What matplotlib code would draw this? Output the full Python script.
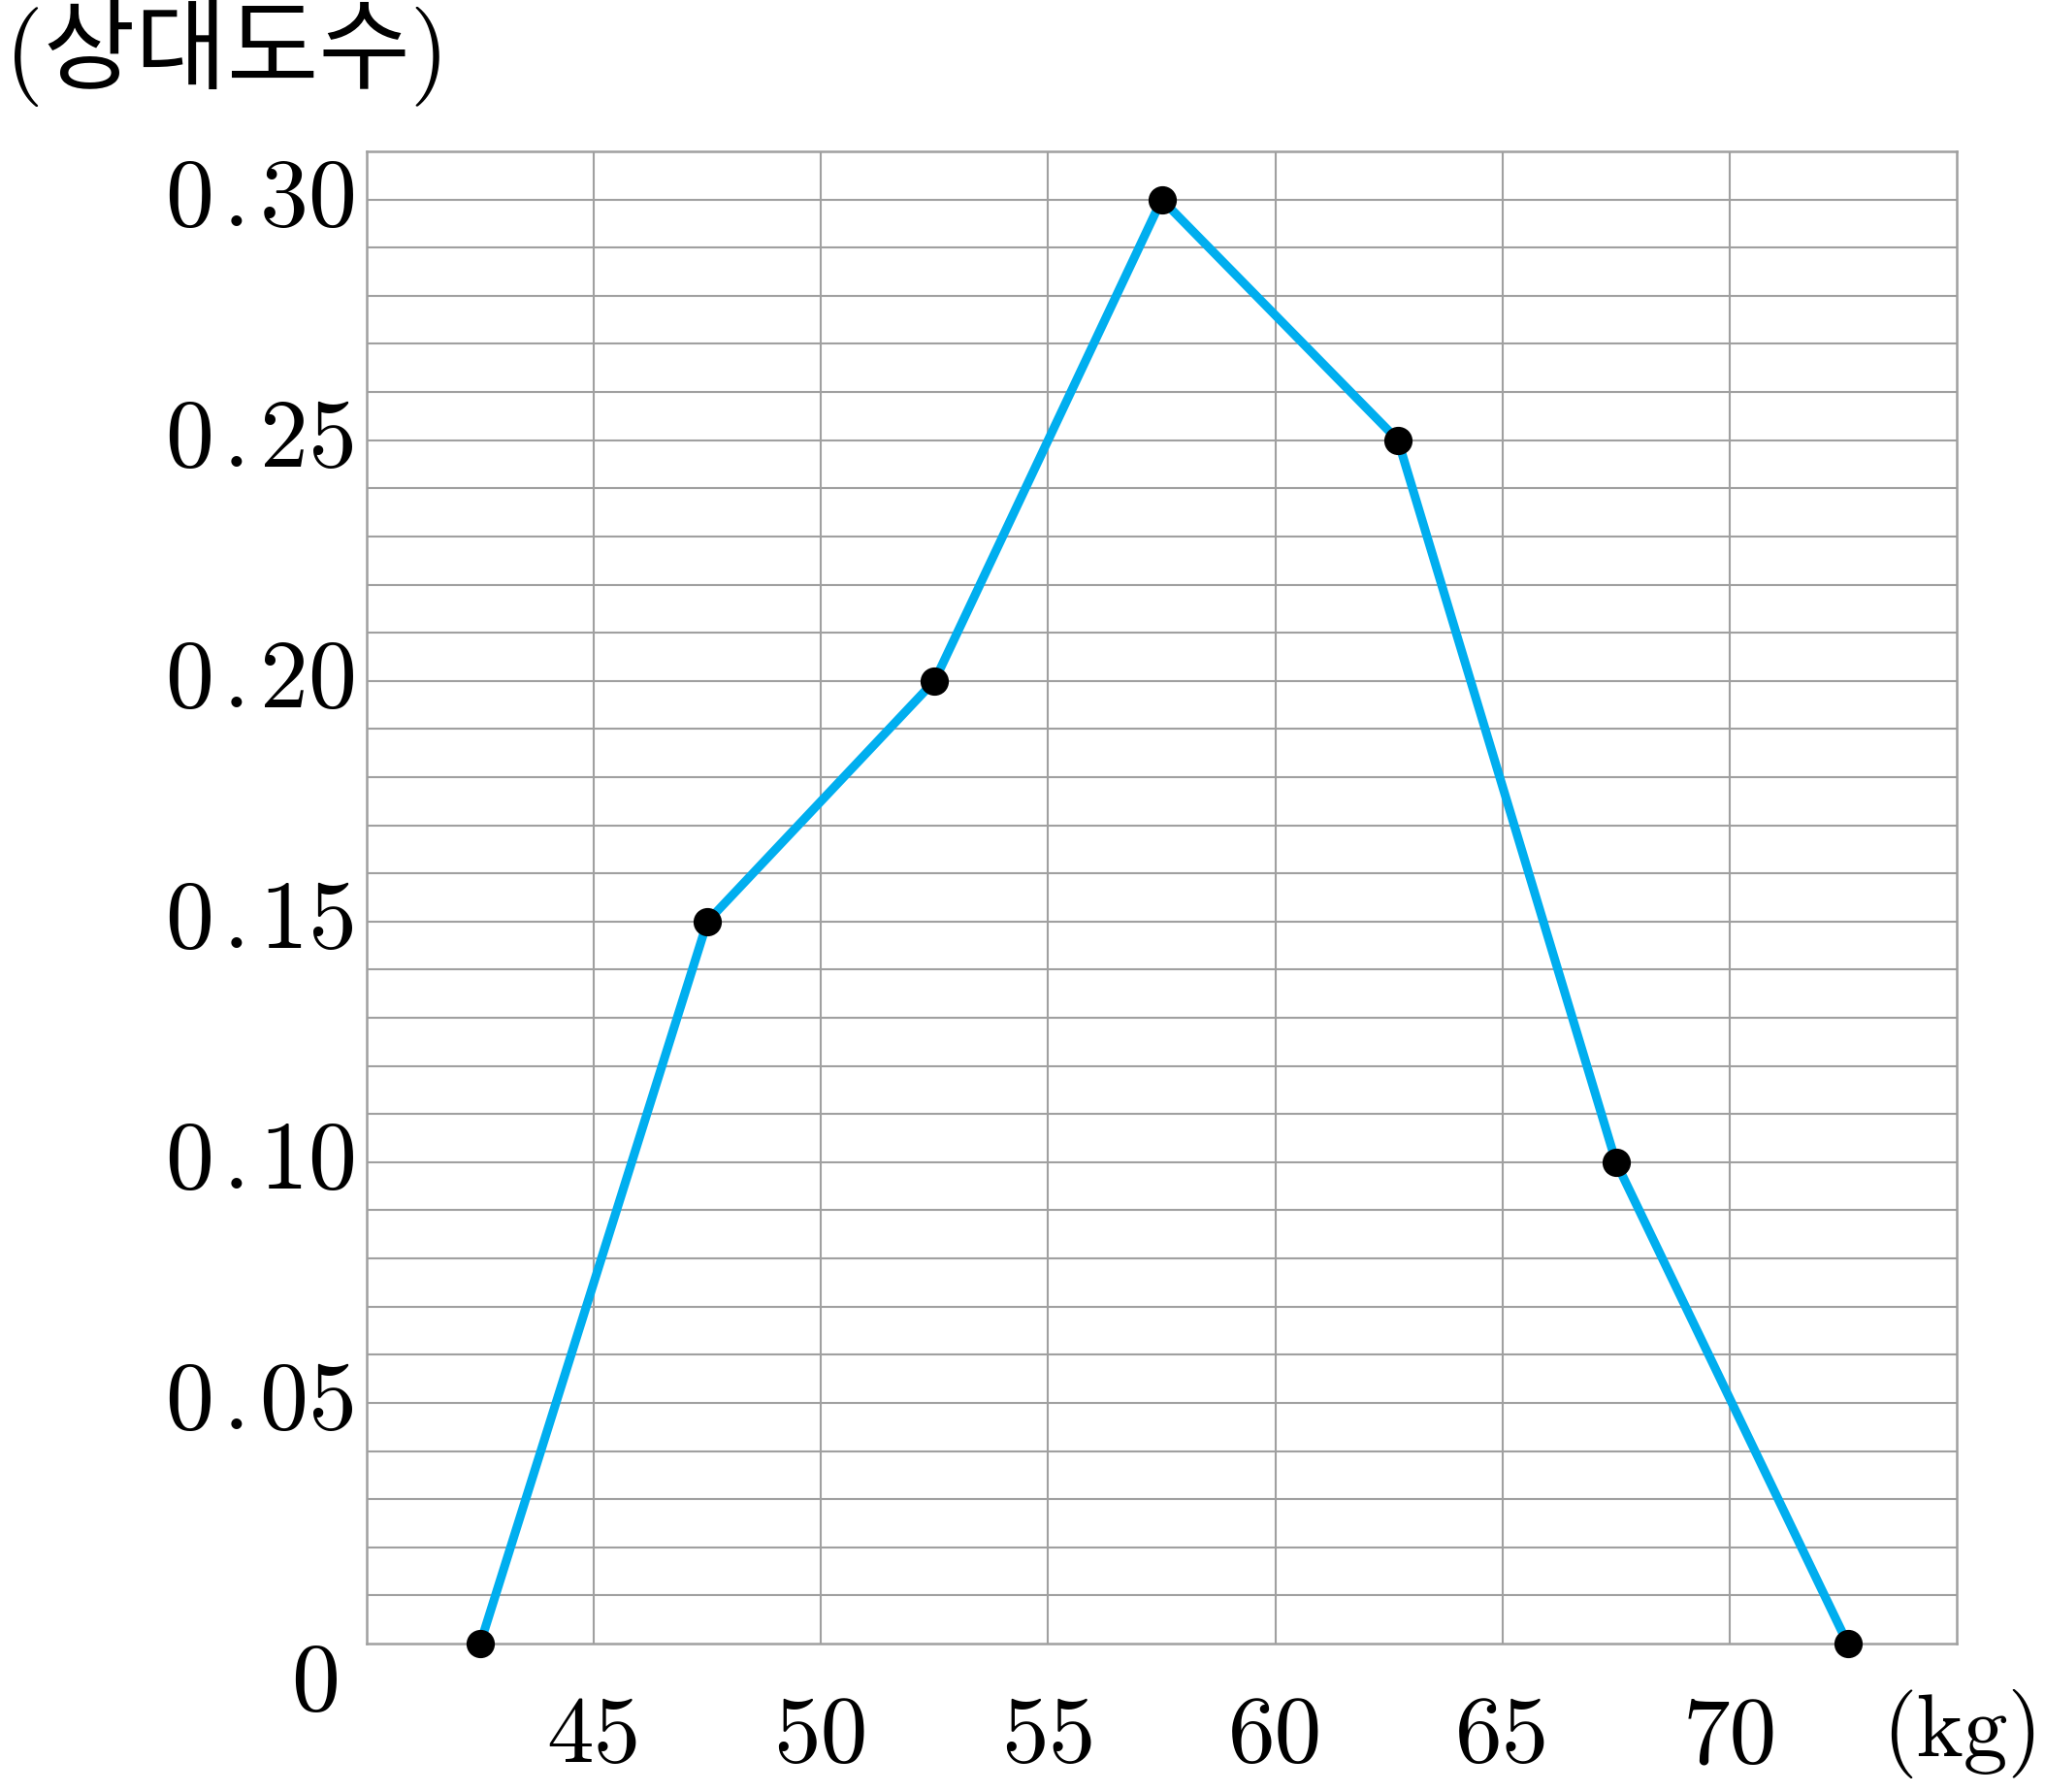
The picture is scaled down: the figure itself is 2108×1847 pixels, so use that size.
import matplotlib
matplotlib.use("Agg")
import matplotlib.pyplot as plt
import numpy as np

plt.rcParams["mathtext.fontset"] = "cm"

# Data
class_mid = [42.5, 47.5, 52.5, 57.5, 62.7, 67.5, 72.6]
rel_freq = [0.0, 0.15, 0.20, 0.30, 0.25, 0.10, 0.0]
x_ticks = [45, 50, 55, 60, 65, 70]
x_tick_labels = ["45", "50", "55", "60", "65", "70"]
y_ticks = [0.05, 0.10, 0.15, 0.20, 0.25, 0.30]
y_tick_labels = ["0.05", "0.10", "0.15", "0.20", "0.25", "0.30"]
y_title = "(상대도수)"
x_unit = "(kg)"

W, H = 2108, 1847
fig = plt.figure(figsize=(W / 100, H / 100), dpi=100)
ax = fig.add_axes([378 / W, 1 - 1694 / H, (2017 - 378) / W, (1694 - 156) / H])

grid_col = "#a0a0a0"
ax.set_xlim(40, 75)
ax.set_ylim(0, 0.31)

# grid
for xv in x_ticks:
    ax.axvline(xv, color=grid_col, lw=1.5, zorder=1)
for yv in np.arange(1, 31) / 100:
    ax.axhline(yv, color=grid_col, lw=1.5, zorder=1)
for s in ax.spines.values():
    s.set_color(grid_col)
    s.set_linewidth(1.8)

ax.plot(class_mid, rel_freq, color="#00AEEF", lw=6.5, zorder=3, solid_capstyle="round")
ax.plot(class_mid, rel_freq, "o", color="black", ms=20, zorder=4, clip_on=False)

ax.tick_params(length=0)
ax.set_xticks(x_ticks)
ax.set_xticklabels(x_tick_labels, fontfamily="cmr10", fontsize=70)
ax.tick_params(axis="x", pad=39)
ax.set_yticks(y_ticks)
ylabs = [r"$%s\hspace{0.11}.\hspace{-0.08}%s$" % tuple(t.split(".")) for t in y_tick_labels]
ax.set_yticklabels(ylabs, fontsize=72)
ax.tick_params(axis="y", pad=(378 - 170) * 0.72)
for lab in ax.get_yticklabels():
    lab.set_horizontalalignment("left")
    lab.set_verticalalignment("center")

# zero label
ax.text(-53 / (2017 - 378), -(1738 - 1694) / (1694 - 156), "0", transform=ax.transAxes,
        fontfamily="cmr10", fontsize=72, ha="center", va="center")
# unit label
ax.text((1940 - 378) / (2017 - 378), -(1787 - 1694) / (1694 - 156), x_unit, transform=ax.transAxes,
        fontfamily="cmr10", fontsize=66, ha="left", va="center")
# y title
fig.text(5 / W, 1 - 55 / H, y_title, fontfamily=["cmr10", "Noto Sans CJK KR"], fontsize=74,
         ha="left", va="center")

fig.savefig("out.png", dpi=100, facecolor="white")
